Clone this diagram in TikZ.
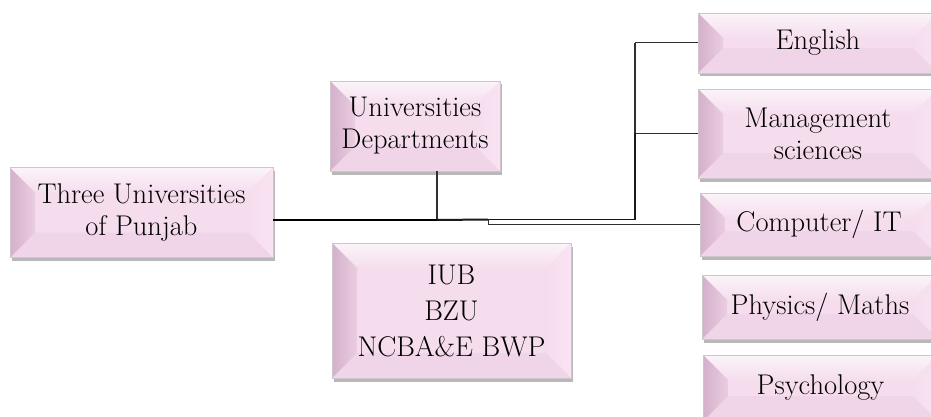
\documentclass[tikz,border=0pt]{standalone}
\usetikzlibrary{shadows,calc}
\definecolor{boxmid}{HTML}{F5DDEE}
\definecolor{bevLa}{HTML}{D4B0CA}
\definecolor{bevLb}{HTML}{EACDE1}
\definecolor{bevTop}{HTML}{FCF4F9}
\definecolor{bevR}{HTML}{F9E3F2}
\definecolor{bevB}{HTML}{F0D4E7}
\definecolor{boxedge}{HTML}{CFC6CC}
\definecolor{linedark}{HTML}{303030}
\tikzset{
  bev/.style={rectangle, inner sep=0pt, align=center,
    font=\fontsize{28.5}{32}\selectfont,
    fill=boxmid, draw=boxedge, line width=0.6pt,
    drop shadow={shadow xshift=1.5pt, shadow yshift=-3.5pt, opacity=0.28, fill=black},
    path picture={
      \path (path picture bounding box.north west) coordinate (pNW)
            (path picture bounding box.north east) coordinate (pNE)
            (path picture bounding box.south west) coordinate (pSW)
            (path picture bounding box.south east) coordinate (pSE);
      \shade[top color=bevTop, bottom color=boxmid]
        (pNW) -- (pNE) -- ([shift={(-25pt,-25pt)}]pNE) -- ([shift={(25pt,-25pt)}]pNW) -- cycle;
      \fill[bevB]
        (pSW) -- (pSE) -- ([shift={(-25pt,25pt)}]pSE) -- ([shift={(25pt,25pt)}]pSW) -- cycle;
      \shade[left color=boxmid, right color=bevR]
        (pNE) -- (pSE) -- ([shift={(-25pt,25pt)}]pSE) -- ([shift={(-25pt,-25pt)}]pNE) -- cycle;
      \shade[left color=bevLa, right color=bevLb]
        (pNW) -- ([shift={(25pt,-25pt)}]pNW) -- ([shift={(25pt,25pt)}]pSW) -- (pSW) -- cycle;
    }},
  thickline/.style={line width=2.4pt, black},
  midline/.style={line width=1.7pt, black!90},
  thinline/.style={line width=1pt, linedark},
}
\begin{document}
\begin{tikzpicture}[x=1pt, y=-1pt]
\useasboundingbox (0,0) rectangle (931,417);
\clip (0,0) rectangle (931,417);

\node[bev, minimum width=263pt, minimum height=90pt] (three) at (141.5,212.5) {Three Universities\\of Punjab};
\node[bev, minimum width=170pt, minimum height=90pt] (dept) at (415,126) {Universities\\Departments};
\node[bev, minimum width=239pt, minimum height=135pt, font=\fontsize{28.5}{36}\selectfont] (iub) at (451.5,310.5) {IUB\\BZU\\NCBA\&E BWP};

\node[bev, minimum width=240pt, minimum height=60pt] (eng) at (818,43) {English};
\node[bev, minimum width=240pt, minimum height=89pt] (mgmt) at (818,133.5) {Management\\sciences};
\node[bev, minimum width=238pt, minimum height=63pt] (comp) at (819,224.5) {Computer/ IT};
\node[bev, minimum width=236pt, minimum height=64pt] (phys) at (820,307) {Physics/ Maths};
\node[bev, minimum width=235pt, minimum height=66pt] (psych) at (820.5,388) {Psychology};

\coordinate (j1) at (437,220);
\coordinate (j2) at (488,219.5);
\coordinate (j3) at (635,219.5);

\draw[thinline, line width=1.4pt] (j1 |- dept.south) -- (j1);
\draw[thinline] (j2) |- (comp.west);
\draw[thinline] (j3 |- mgmt.west) -- (mgmt.west);
\draw[thinline, line cap=rect] (j3 |- eng.west) -- (eng.west);
\draw[midline] (j2) -- (j3) -- (j3 |- mgmt.west);
\draw[thinline, line width=1.3pt] (j3 |- mgmt.west) -- (j3 |- eng.west);
\draw[midline, line width=2pt] (j1) -- (j2);
\draw[thickline] (three.east |- j1) -- (j1);
\end{tikzpicture}
\end{document}
